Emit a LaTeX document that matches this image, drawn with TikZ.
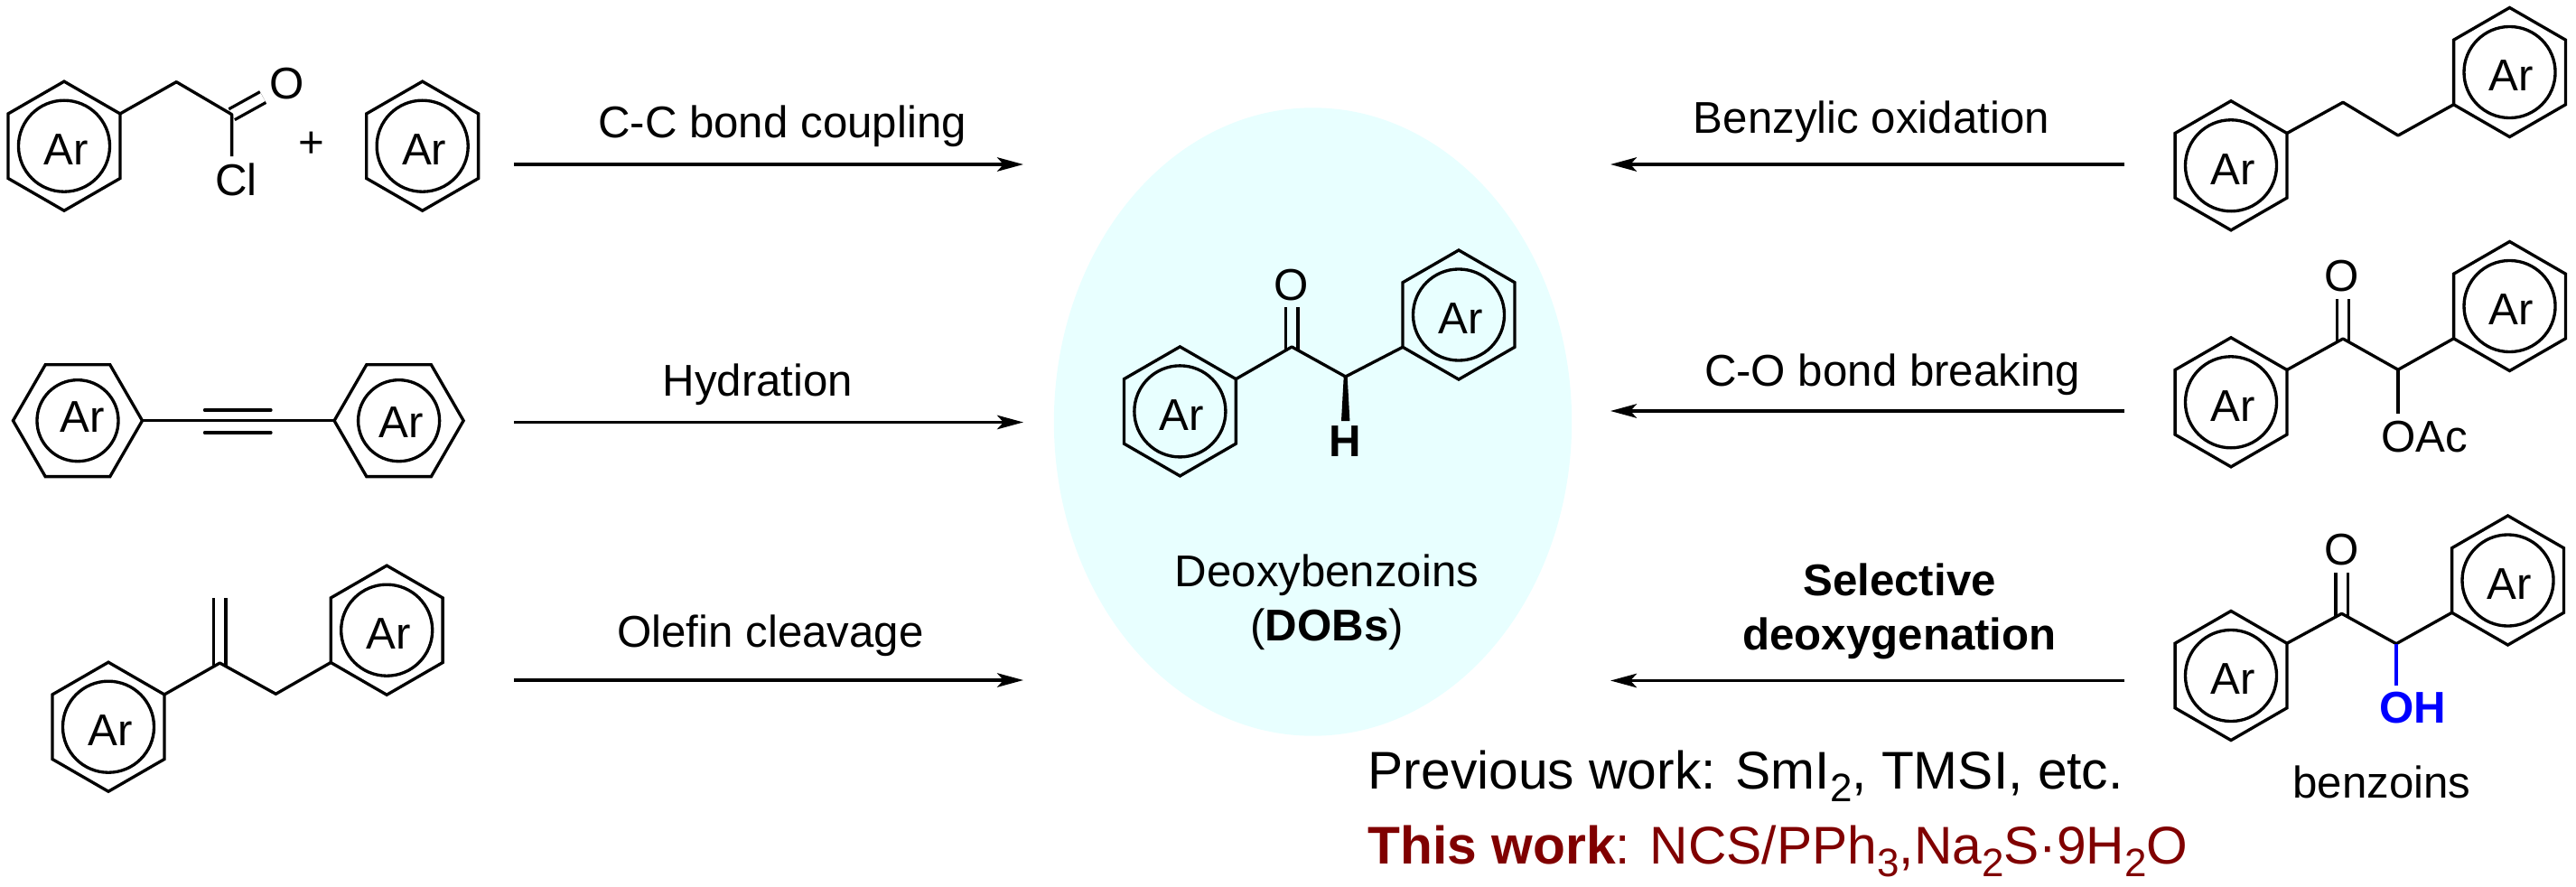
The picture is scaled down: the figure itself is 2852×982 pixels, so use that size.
\documentclass[tikz,border=0pt]{standalone}
\usepackage{fontspec}
\setmainfont{Liberation Sans}
\usetikzlibrary{shapes.geometric, arrows.meta}
\definecolor{dobcyan}{HTML}{E8FFFF}
\definecolor{thisred}{HTML}{800000}
\definecolor{ohblue}{HTML}{0000FF}
\newcommand{\lowsub}[1]{\raisebox{-1.4mm}{\fontsize{12.5}{12.5}\selectfont #1}}

\begin{document}
\begin{tikzpicture}[x=0.01cm, y=-0.01cm,
        hexring/.style={regular polygon, regular polygon sides=6, shape border rotate=30, draw, line width=.95pt, minimum size=1.43cm, inner sep=0pt, outer sep=0pt},
        flatring/.style={hexring, shape border rotate=0},
        arcircle/.style={circle, draw, line width=.95pt, minimum size=1.01cm, inner sep=0pt, outer sep=0pt},
        smallcircle/.style={arcircle, minimum size=.9cm},
        txt/.style={font=\fontsize{14}{17}\selectfont, align=center, inner sep=0pt},
        atom/.style={font=\fontsize{14}{17}\selectfont, inner sep=.07cm},
        bond/.style={line width=.95pt, line join=round},
        dblbond/.style={line width=.95pt, double, double distance=.1cm},
        rxnarrow/.style={-{Stealth[length=.29cm, width=.155cm, inset=.07cm]}, line width=1pt}]
      \useasboundingbox (0,0) rectangle (2852,982);

      % Central ellipse
      \node[ellipse, fill=dobcyan, minimum width=5.73cm, minimum height=6.95cm, inner sep=0pt] (dobs) at (1453.5,467) {};

      % Rings
      \foreach \rname/\rx/\ry in {acl/71/161.7, bnz/467.7/161.7, ola/120/804.7, olb/428.2/697.7,
          doba/1306.4/455.4, dobb/1615/348.5, biba/2470/183.3, bibb/2778.5/80,
          oaca/2470/445.3, oacb/2778.5/339, bzoa/2470/748, bzob/2776.5/642.5} {
        \node[hexring] (\rname) at (\rx,\ry) {};
        \node[arcircle] (\rname c) at (\rname) {};
        \node[txt] (\rname t) at ([shift={(.02cm,-.04cm)}]\rname) {Ar};
      }
      \node[flatring] (alka) at (86,465.7) {};
      \node[smallcircle] (alkac) at (alka) {};
      \node[txt] (alkat) at (91.4,461.7) {Ar};
      \node[flatring] (alkb) at (441.6,465.7) {};
      \node[smallcircle] (alkbc) at (alkb) {};
      \node[txt] (alkbt) at (444.4,468) {Ar};

      % Acid chloride and arene
      \coordinate (aclch) at (195.3,90.7);
      \coordinate (aclco) at (256.6,126.7);
      \node[atom] (aclo) at (318,92.7) {O};
      \node[atom] (aclcl) at (261.6,199) {Cl};
      \node[txt] (plus) at (345,160) {+};
      \draw[dblbond] (aclco) -- (aclo);
      \draw[bond] (acl.corner 6) -- (aclch) -- (aclco) -- (aclco |- aclcl.north);

      % Alkyne
      \coordinate (alkl) at (226.5,454);
      \coordinate (alkr) at (300,454);
      \coordinate (alkll) at (226.5,479);
      \coordinate (alkrr) at (300,479);
      \draw[bond] (alka.corner 6) -- (alkb.corner 3);
      \draw[bond, line cap=round] (alkl) -- (alkr);
      \draw[bond, line cap=round] (alkll) -- (alkrr);

      % Olefin
      \coordinate (olc) at (243.4,734);
      \coordinate (olch) at (243.4,661.7);
      \coordinate (olcb) at (305.4,768.3);
      \draw[dblbond, shorten <=-.04cm] (olc) -- (olch);
      \draw[bond] (ola.corner 6) -- (olc) -- (olcb) -- (olb.corner 3);

      % Deoxybenzoin
      \coordinate (dobco) at (1430.2,384);
      \coordinate (dobch) at (1489.7,417);
      \coordinate (dobtl) at (1487.7,417);
      \coordinate (dobtr) at (1491.7,417);
      \coordinate (dobwl) at (1485,466);
      \coordinate (dobwr) at (1494.4,466);
      \node[atom] (dobo) at (1429.4,315.3) {O};
      \node[atom, font=\fontsize{14}{17}\selectfont\bfseries] (dobh) at (1489.5,488.5) {H};
      \node[txt] (dobname) at (1469,667) {Deoxybenzoins\\(\textbf{DOBs})};
      \draw[dblbond, double=dobcyan, shorten <=-.04cm] (dobco) -- (dobco |- dobo.south);
      \draw[bond] (doba.corner 6) -- (dobco) -- (dobch) -- (dobb.corner 3);
      \fill (dobtl) -- (dobtr) -- (dobwr) -- (dobwl) -- cycle;

      % Bibenzyl
      \coordinate (biba1) at (2594,113.3);
      \coordinate (bibb1) at (2655,150);
      \draw[bond] (biba.corner 6) -- (biba1) -- (bibb1) -- (bibb.corner 3);

      % Acetate
      \coordinate (oacco) at (2594,375);
      \coordinate (oacch) at (2655,409.3);
      \node[atom] (oaco) at (2592.7,305.7) {O};
      \node[atom] (oacoac) at (2684.3,483.3) {OAc};
      \draw[dblbond, shorten <=-.04cm] (oacco) -- (oacco |- oaco.south);
      \draw[bond] (oaca.corner 6) -- (oacco) -- (oacch) -- (oacb.corner 3);
      \draw[bond] (oacch) -- (oacch |- oacoac.north);

      % Benzoin
      \coordinate (bzoco) at (2592.6,679.3);
      \coordinate (bzoch) at (2653,712.7);
      \node[atom] (bzoo) at (2592.6,609) {O};
      \node[atom, text=ohblue, font=\fontsize{14}{17}\selectfont\bfseries] (bzooh) at (2671,784) {OH};
      \node[txt] (bzoname) at (2637,866) {benzoins};
      \draw[dblbond, shorten <=-.04cm] (bzoco) -- (bzoco |- bzoo.south);
      \draw[bond] (bzoa.corner 6) -- (bzoco) -- (bzoch) -- (bzob.corner 3);
      \draw[bond, ohblue] (bzoch) -- (bzoch |- bzooh.north);

      % Arrows
      \coordinate (ccs) at (569,182);
      \coordinate (cce) at (1133,182);
      \coordinate (hys) at (569,467.5);
      \coordinate (hye) at (1133,467.5);
      \coordinate (ols) at (569,753);
      \coordinate (ole) at (1133,753);
      \coordinate (bxs) at (2352,182);
      \coordinate (bxe) at (1783,182);
      \coordinate (cos) at (2352,455);
      \coordinate (coe) at (1783,455);
      \coordinate (sds) at (2352,753.5);
      \coordinate (sde) at (1783,753.5);
      \foreach \afrom/\ato in {ccs/cce, hys/hye, ols/ole, bxs/bxe, cos/coe, sds/sde}
        \draw[rxnarrow] (\afrom) -- (\ato);

      % Arrow labels
      \node[txt] (cclabel) at (866,140) {C-C bond coupling};
      \node[txt] (hylabel) at (839,426) {Hydration};
      \node[txt] (ollabel) at (853,704) {Olefin cleavage};
      \node[txt] (bxlabel) at (2072,135) {Benzylic oxidation};
      \node[txt] (colabel) at (2095,415) {C-O bond breaking};
      \node[txt, font=\fontsize{14}{17}\selectfont\bfseries] (sdlabel) at (2103,677) {Selective\\deoxygenation};

      % Conditions
      \node[anchor=base west, inner sep=0pt, font=\fontsize{16.7}{20}\selectfont] (prevwork) at (1514,873) {Previous work: SmI\lowsub{2}, TMSI, etc.};
      \node[anchor=base west, inner sep=0pt, font=\fontsize{16.7}{20}\selectfont, text=thisred] (thiswork) at (1514,956) {\textbf{This work}: NCS/PPh\lowsub{3},Na\lowsub{2}S·9H\lowsub{2}O};
    \end{tikzpicture}
\end{document}
